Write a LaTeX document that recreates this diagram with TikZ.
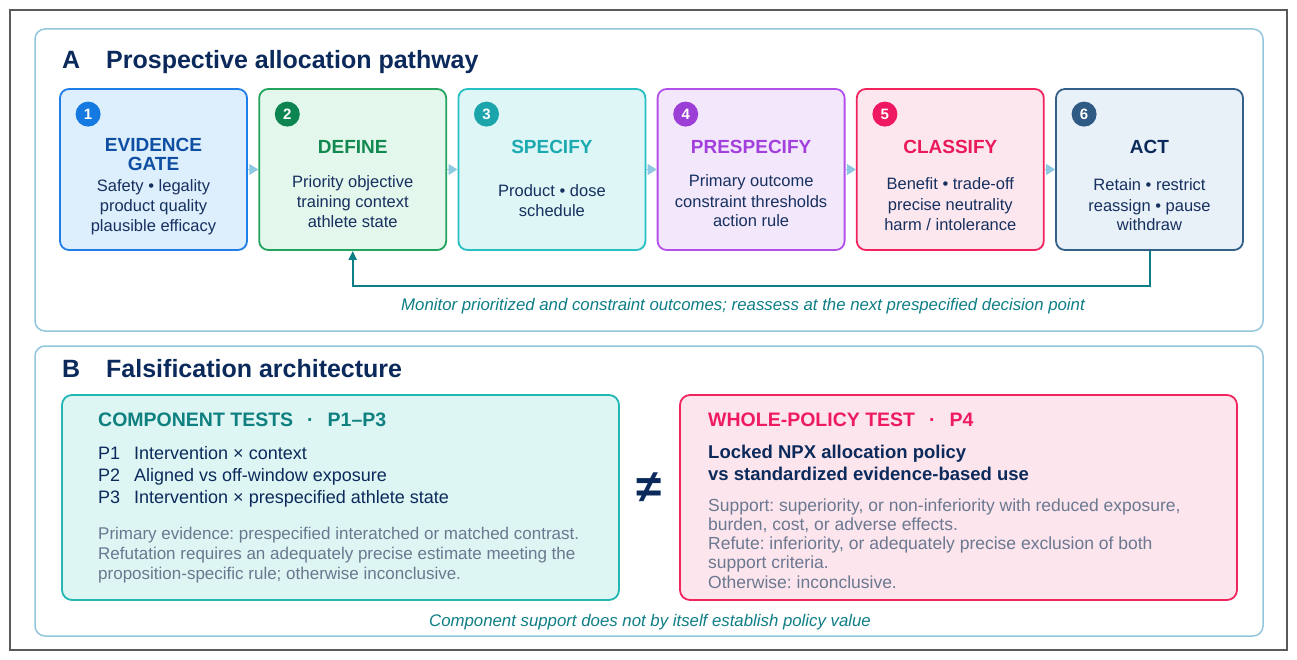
\documentclass[tikz,border=0pt]{standalone}
\usepackage{fontspec}
\setmainfont{Liberation Sans}
\usetikzlibrary{arrows.meta,calc}
\frenchspacing

\definecolor{navy}{HTML}{0B2A5B}
\definecolor{bodytxt}{HTML}{16305F}
\definecolor{graytxt}{HTML}{6A7890}
\definecolor{panelline}{HTML}{93C5DC}
\definecolor{framegray}{HTML}{5A5A5A}
\definecolor{arrowblue}{HTML}{8EC8E2}
\definecolor{loopteal}{HTML}{0E7E86}
\definecolor{s1line}{HTML}{1F7FE6}\definecolor{s1fill}{HTML}{DDEEFC}
\definecolor{s1title}{HTML}{0E4FA3}\definecolor{s1dot}{HTML}{1479E0}
\definecolor{s2line}{HTML}{22A45E}\definecolor{s2fill}{HTML}{E3F7EC}
\definecolor{s2title}{HTML}{12894F}\definecolor{s2dot}{HTML}{0E8550}
\definecolor{s3line}{HTML}{27C0C2}\definecolor{s3fill}{HTML}{DEF6F6}
\definecolor{s3title}{HTML}{1BAAB0}\definecolor{s3dot}{HTML}{1BA4AA}
\definecolor{s4line}{HTML}{B350EA}\definecolor{s4fill}{HTML}{F3E7FC}
\definecolor{s4title}{HTML}{A33FDD}\definecolor{s4dot}{HTML}{9B3FD6}
\definecolor{s5line}{HTML}{F2245E}\definecolor{s5fill}{HTML}{FDE7EE}
\definecolor{s5title}{HTML}{E9195A}\definecolor{s5dot}{HTML}{EF1762}
\definecolor{s6line}{HTML}{335F88}\definecolor{s6fill}{HTML}{E9F1F8}
\definecolor{s6dot}{HTML}{2E5A83}
\definecolor{compline}{HTML}{22B7B2}\definecolor{compfill}{HTML}{DDF5F3}
\definecolor{comphead}{HTML}{0E8080}
\definecolor{wholeline}{HTML}{F0245E}\definecolor{wholefill}{HTML}{FDE5ED}
\definecolor{wholehead}{HTML}{EE1A62}

\begin{document}
\begin{tikzpicture}[x=1pt,y=-1pt,
  stagebox/.style 2 args={draw=#1, fill=#2, line width=1.8pt, rounded corners=9pt,
    minimum width=187pt, minimum height=161pt, inner sep=0pt},
  numdot/.style={circle, fill=#1, text=white, minimum size=25pt, inner sep=0pt,
    font=\bfseries\fontsize{15}{15}\selectfont},
  stagetitle/.style={text=#1, anchor=base, align=center, inner sep=0pt,
    font=\bfseries\fontsize{19}{19}\selectfont},
  stagebody/.style={text=bodytxt, anchor=base, align=center, inner sep=0pt,
    font=\fontsize{16.5}{20}\selectfont},
  flowarrow/.style={draw=arrowblue, line width=1pt, -{Triangle[length=9pt,width=11pt]}},
  loopline/.style={draw=loopteal, line width=2pt, -{Triangle[length=9pt,width=8pt]}},
  panelbox/.style={draw=panelline, line width=1.5pt, rounded corners=10pt, fill=white},
  paneltitle/.style={text=navy, anchor=base west, inner sep=0pt,
    font=\bfseries\fontsize{25}{25}\selectfont},
  testbox/.style 2 args={draw=#1, fill=#2, line width=1.8pt, rounded corners=10pt},
  testhead/.style={text=#1, anchor=base west, inner sep=0pt,
    font=\bfseries\fontsize{19.5}{20}\selectfont},
  graynote/.style={text=graytxt, anchor=base west, align=left, inner sep=0pt,
    font=\fontsize{17}{20}\selectfont},
  notelabel/.style={text=loopteal, anchor=base, inner sep=0pt,
    font=\itshape\fontsize{16.8}{17}\selectfont}]
  \def\xsep{199.2}
  \def\xo{153.5}
  \def\ymid{169.5}

  \fill[white] (0,0) rectangle (1297,660);
  \useasboundingbox (0,0) rectangle (1297,660);
  \draw[framegray, line width=2pt] (10,10) rectangle (1287,650);

  % panel A
  \draw[panelbox] (35,29) rectangle (1263,331);
  \node[paneltitle] (la) at (62,69) {A};
  \node[paneltitle] (ta) at (106,69) {Prospective allocation pathway};

  \node[stagebox={s1line}{s1fill}] (s1) at ({\xo+0*\xsep}, \ymid) {};
  \node[stagebox={s2line}{s2fill}] (s2) at ({\xo+1*\xsep}, \ymid) {};
  \node[stagebox={s3line}{s3fill}] (s3) at ({\xo+2*\xsep}, \ymid) {};
  \node[stagebox={s4line}{s4fill}] (s4) at ({\xo+3*\xsep}, \ymid) {};
  \node[stagebox={s5line}{s5fill}] (s5) at ({\xo+4*\xsep}, \ymid) {};
  \node[stagebox={s6line}{s6fill}] (s6) at ({\xo+5*\xsep}, \ymid) {};

  \node[numdot=s1dot] (n1) at ($(s1.north west)+(29,26)$) {1};
  \node[numdot=s2dot] (n2) at ($(s2.north west)+(29,26)$) {2};
  \node[numdot=s3dot] (n3) at ($(s3.north west)+(29,26)$) {3};
  \node[numdot=s4dot] (n4) at ($(s4.north west)+(29,26)$) {4};
  \node[numdot=s5dot] (n5) at ($(s5.north west)+(29,26)$) {5};
  \node[numdot=s6dot] (n6) at ($(s6.north west)+(29,26)$) {6};

  % multi-line nodes sit on their last baseline
  \node[stagetitle=s1title] (t1) at ({\xo+0*\xsep}, 171) {EVIDENCE\\GATE};
  \node[stagetitle=s2title] (t2) at ({\xo+1*\xsep}, 154) {DEFINE};
  \node[stagetitle=s3title] (t3) at ({\xo+2*\xsep}, 154) {SPECIFY};
  \node[stagetitle=s4title] (t4) at ({\xo+3*\xsep}, 154) {PRESPECIFY};
  \node[stagetitle=s5title] (t5) at ({\xo+4*\xsep}, 154) {CLASSIFY};
  \node[stagetitle=navy]    (t6) at ({\xo+5*\xsep}, 154) {ACT};

  \node[stagebody] (b1) at ({\xo+0*\xsep}, 232) {Safety • legality\\product quality\\plausible efficacy};
  \node[stagebody] (b2) at ({\xo+1*\xsep}, 228) {Priority objective\\training context\\athlete state};
  \node[stagebody] (b3) at ({\xo+2*\xsep}, 217) {Product • dose\\schedule};
  \node[stagebody] (b4) at ({\xo+3*\xsep}, 227) {Primary outcome\\constraint thresholds\\action rule};
  \node[stagebody] (b5) at ({\xo+4*\xsep}, 230) {Benefit • trade-off\\precise neutrality\\harm / intolerance};
  \node[stagebody] (b6) at ({\xo+5*\xsep}, 231) {Retain • restrict\\reassign • pause\\withdraw};

  \draw[flowarrow] (s1) -- (s2);
  \draw[flowarrow] (s2) -- (s3);
  \draw[flowarrow] (s3) -- (s4);
  \draw[flowarrow] (s4) -- (s5);
  \draw[flowarrow] (s5) -- (s6);
  \draw[loopline] (s6.south) -- ++(0,35) -| (s2.south);

  \node[notelabel] (monitor) at (743,310)
    {Monitor prioritized and constraint outcomes; reassess at the next prespecified decision point};

  % panel B
  \draw[panelbox] (35,346) rectangle (1263,636);
  \node[paneltitle] (lb) at (62,377) {B};
  \node[paneltitle] (tb) at (106,377) {Falsification architecture};

  \draw[testbox={compline}{compfill}] (62,395) rectangle (619,600);
  \node[testhead=comphead] (hc) at (98,426) {COMPONENT TESTS\hspace{14pt}·\hspace{14pt}P1–P3};
  \node[text=navy, anchor=base west, align=left, inner sep=0pt,
    font=\fontsize{18}{22}\selectfont] (props) at (98,503)
    {\makebox[36pt][l]{P1}Intervention × context\\
     \makebox[36pt][l]{P2}Aligned vs off-window exposure\\
     \makebox[36pt][l]{P3}Intervention × prespecified athlete state};
  \node[graynote] (cnote) at (98,579)
    {Primary evidence: prespecified interatched or matched contrast.\\
     Refutation requires an adequately precise estimate meeting the\\
     proposition-specific rule; otherwise inconclusive.};

  \node[text=navy, font=\bfseries\fontsize{46}{46}\selectfont, inner sep=0pt] (neq) at (649,488) {≠};

  \draw[testbox={wholeline}{wholefill}] (680,395) rectangle (1237,600);
  \node[testhead=wholehead] (hw) at (708,426) {WHOLE-POLICY TEST\hspace{14pt}·\hspace{14pt}P4};
  \node[text=navy, anchor=base west, align=left, inner sep=0pt,
    font=\bfseries\fontsize{18.5}{21.5}\selectfont] (policy) at (708,480)
    {Locked NPX allocation policy\\vs standardized evidence-based use};
  \node[graynote, font=\fontsize{17.5}{19.25}\selectfont] (wnote) at (708,588)
    {Support: superiority, or non-inferiority with reduced exposure,\\
     burden, cost, or adverse effects.\\
     Refute: inferiority, or adequately precise exclusion of both\\
     support criteria.\\
     Otherwise: inconclusive.};

  \node[notelabel] (caveat) at (650,626)
    {Component support does not by itself establish policy value};
\end{tikzpicture}
\end{document}
